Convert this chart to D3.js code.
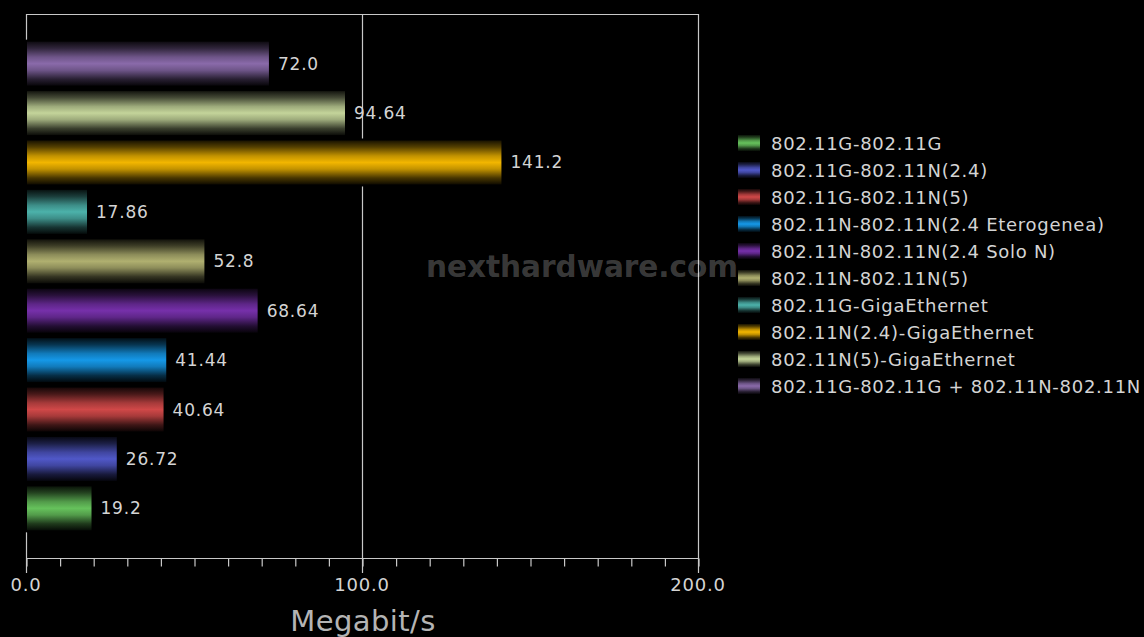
<!DOCTYPE html>
<html>
<head>
<meta charset="utf-8">
<script src="https://cdn.jsdelivr.net/npm/d3@7/dist/d3.min.js"></script>
<style>
  html, body { margin: 0; padding: 0; background: #000; }
  svg { display: block; }
</style>
</head>
<body>
<svg id="chart" width="1144" height="637"></svg>
<script>
// Throughput per link type (Megabit/s), in legend order
const series = [
  "802.11G-802.11G",
  "802.11G-802.11N(2.4)",
  "802.11G-802.11N(5)",
  "802.11N-802.11N(2.4 Eterogenea)",
  "802.11N-802.11N(2.4 Solo N)",
  "802.11N-802.11N(5)",
  "802.11G-GigaEthernet",
  "802.11N(2.4)-GigaEthernet",
  "802.11N(5)-GigaEthernet",
  "802.11G-802.11G + 802.11N-802.11N"
];
const values = [19.2, 26.72, 40.64, 41.44, 68.64, 52.8, 17.86, 141.2, 94.64, 72.0];
const colors = ["#66c25c", "#5058c8", "#d04848", "#1598e8", "#7630aa",
                "#b0b070", "#4cb2aa", "#f2b600", "#c4d49a", "#8a6aaa"];
const tickValues = [0, 100, 200];
const tickLabels = ["0.0", "100.0", "200.0"];
const axisTitle = "Megabit/s";
const watermark = "nexthardware.com";

const svg = d3.select("#chart");
const defs = svg.append("defs");

const plot = { left: 26, right: 698, top: 14, bottom: 558 };

const x = d3.scaleLinear().domain([0, 200]).range([plot.left, plot.right]);
// Last series sits at the top of the chart
const y = d3.scaleBand()
  .domain(series.slice().reverse())
  .range([plot.top, plot.bottom])
  .paddingInner(0.11)
  .paddingOuter(0.56);

const lineColor = "#c8c8c8";
const textColor = "#d4d4d4";

// Glossy vertical gradient per colour: dark edges, bright centre
colors.forEach((c, i) => {
  const g = defs.append("linearGradient")
    .attr("id", "grad" + i)
    .attr("x1", 0).attr("y1", 0).attr("x2", 0).attr("y2", 1);
  const mix = d3.interpolateRgb("#000", c);
  [[0, 0.1], [0.15, 0.35], [0.35, 0.8], [0.5, 1], [0.65, 0.8], [0.85, 0.3], [1, 0.06]]
    .forEach(([o, t]) => g.append("stop").attr("offset", o).attr("stop-color", mix(t)));
});

// Frame: top border, value 100 grid line, right border
const frame = svg.append("g").attr("stroke", lineColor).attr("stroke-width", 1.2).attr("fill", "none");
frame.append("line")
  .attr("x1", x(0)).attr("x2", x(200)).attr("y1", plot.top + 0.5).attr("y2", plot.top + 0.5);
[100, 200].forEach(v => {
  frame.append("line")
    .attr("x1", x(v) + 0.5).attr("x2", x(v) + 0.5)
    .attr("y1", plot.top).attr("y2", plot.bottom + 15);
});
// Left border, visible above and below the bar block
const firstBarTop = y(series[series.length - 1]);
const lastBarBottom = y(series[0]) + y.bandwidth();
frame.append("line")
  .attr("x1", x(0) + 0.5).attr("x2", x(0) + 0.5)
  .attr("y1", plot.top).attr("y2", firstBarTop - 2);
frame.append("line")
  .attr("x1", x(0) + 0.5).attr("x2", x(0) + 0.5)
  .attr("y1", lastBarBottom + 2).attr("y2", plot.bottom + 15);

// Bottom axis with minor ticks every 10
const axis = d3.axisBottom(x)
  .tickValues(d3.range(0, 201, 10))
  .tickSize(8)
  .tickFormat("");
const axisG = svg.append("g")
  .attr("transform", `translate(0.5,${plot.bottom + 0.5})`)
  .call(axis);
axisG.select(".domain").attr("stroke", lineColor).attr("stroke-width", 1.2)
  .attr("d", `M${x(0)},0H${x(200)}`);
axisG.selectAll(".tick line").attr("stroke", lineColor).attr("stroke-width", 1.2);

// Major tick labels
svg.append("g").selectAll("text")
  .data(tickValues)
  .join("text")
  .attr("x", d => x(d))
  .attr("y", plot.bottom + 33)
  .attr("text-anchor", "middle")
  .attr("fill", textColor)
  .attr("font-family", "DejaVu Sans, sans-serif")
  .attr("font-size", 18)
  .attr("letter-spacing", 0.8)
  .text((d, i) => tickLabels[i]);

// Axis title
svg.append("text")
  .attr("x", x(100) + 1)
  .attr("y", 631)
  .attr("text-anchor", "middle")
  .attr("fill", "#b4b4b4")
  .attr("font-family", "DejaVu Sans, sans-serif")
  .attr("font-size", 29)
  .attr("letter-spacing", 0.4)
  .text(axisTitle);

const rows = series.map((s, i) => ({ name: s, value: values[i], idx: i }));

// Black halo behind each bar hides the grid line around it
svg.append("g").selectAll("rect")
  .data(rows)
  .join("rect")
  .attr("x", x(0) + 1)
  .attr("y", d => y(d.name) - 2)
  .attr("width", d => x(d.value) - x(0) + 2)
  .attr("height", y.bandwidth() + 4)
  .attr("fill", "#000");

svg.append("g").selectAll("rect")
  .data(rows)
  .join("rect")
  .attr("x", x(0) + 1)
  .attr("y", d => y(d.name))
  .attr("width", d => x(d.value) - x(0))
  .attr("height", y.bandwidth())
  .attr("fill", d => `url(#grad${d.idx})`);

// Value labels
const fmt = v => (Number.isInteger(v) ? v.toFixed(1) : String(v));
svg.append("g").selectAll("text")
  .data(rows)
  .join("text")
  .attr("x", d => x(d.value) + 10)
  .attr("y", d => y(d.name) + y.bandwidth() / 2 + 6)
  .attr("fill", textColor)
  .attr("font-family", "DejaVu Sans, sans-serif")
  .attr("font-size", 17)
  .attr("letter-spacing", 0.8)
  .text(d => fmt(d.value));

// Watermark
svg.append("text")
  .attr("x", 582)
  .attr("y", 277)
  .attr("text-anchor", "middle")
  .attr("fill", "#ffffff")
  .attr("fill-opacity", 0.24)
  .attr("font-family", "DejaVu Sans, sans-serif")
  .attr("font-weight", "bold")
  .attr("font-size", 29.5)
  .text(watermark);

// Legend
const legend = svg.append("g").attr("transform", "translate(738,143)");
const item = legend.selectAll("g")
  .data(rows)
  .join("g")
  .attr("transform", (d, i) => `translate(0,${i * 27})`);
item.append("rect")
  .attr("x", 0).attr("y", -8)
  .attr("width", 22).attr("height", 16)
  .attr("fill", d => `url(#grad${d.idx})`);
item.append("text")
  .attr("x", 33)
  .attr("y", 6.5)
  .attr("fill", textColor)
  .attr("font-family", "DejaVu Sans, sans-serif")
  .attr("font-size", 18)
  .attr("letter-spacing", 0.72)
  .text(d => d.name);
</script>
</body>
</html>
